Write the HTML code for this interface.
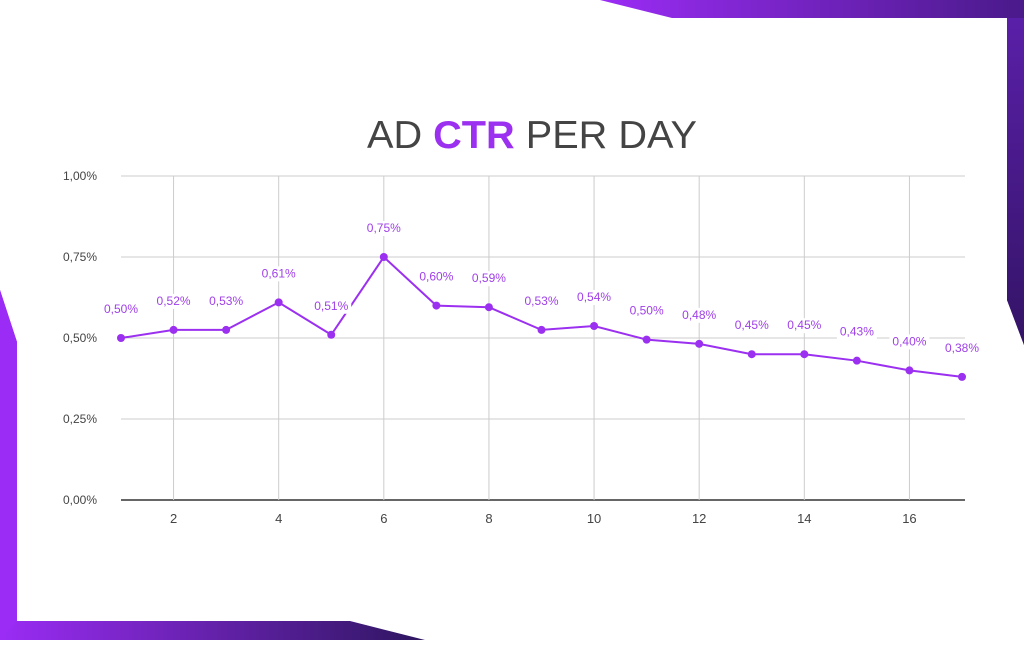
<!DOCTYPE html>
<html><head><meta charset="utf-8"><style>
html,body{margin:0;padding:0;background:#fff;}
body{width:1024px;height:640px;overflow:hidden;font-family:"Liberation Sans",sans-serif;}
</style></head><body>
<svg width="1024" height="640" viewBox="0 0 1024 640">
<defs>
<linearGradient id="gt" x1="0" x2="1" y1="0" y2="0"><stop offset="0" stop-color="#9b2cf5"/><stop offset="1" stop-color="#4a1a8a"/></linearGradient>
<linearGradient id="gr" x1="0" x2="0" y1="0" y2="1"><stop offset="0" stop-color="#5a1fa8"/><stop offset="1" stop-color="#331466"/></linearGradient>
<linearGradient id="gb" x1="0" x2="1" y1="0" y2="0"><stop offset="0" stop-color="#9b2cf5"/><stop offset="1" stop-color="#2e1660"/></linearGradient>
</defs>
<polygon points="600,0 1024,0 1024,345 1007,300 1007,18 672,18" fill="url(#gt)"/>
<polygon points="1007,18 1024,18 1024,345 1007,300" fill="url(#gr)"/>
<polygon points="0,290 17,342 17,621 350,621 425,640 0,640" fill="url(#gb)"/>
<polygon points="0,290 17,342 17,621 0,640" fill="#9b2cf5"/>
<text x="532" y="148" text-anchor="middle" font-size="39" fill="#444" textLength="330" lengthAdjust="spacingAndGlyphs">AD <tspan fill="#9b30f0" font-weight="bold">CTR</tspan> PER DAY</text>
<g id="grid"></g><g id="series"></g>
</svg>
<script>
const days=[1,2,3,4,5,6,7,8,9,10,11,12,13,14,15,16,17];
const ctr=[0.50,0.525,0.525,0.61,0.51,0.75,0.60,0.595,0.525,0.537,0.495,0.482,0.45,0.45,0.43,0.40,0.38];
const valueLabels=["0,50%","0,52%","0,53%","0,61%","0,51%","0,75%","0,60%","0,59%","0,53%","0,54%","0,50%","0,48%","0,45%","0,45%","0,43%","0,40%","0,38%"];
const yTicks=[0,0.25,0.5,0.75,1.0];
const yTickLabels=["0,00%","0,25%","0,50%","0,75%","1,00%"];
const xTicks=[2,4,6,8,10,12,14,16];
const NS="http://www.w3.org/2000/svg";
const X=d=>121+(d-1)*(962-121)/16;
const Y=v=>500-v*324;
function mk(tag,at,parent,txt){const e=document.createElementNS(NS,tag);for(const k in at)e.setAttribute(k,at[k]);if(txt!==undefined)e.textContent=txt;parent.appendChild(e);return e;}
const g=document.getElementById('grid'),s=document.getElementById('series');
yTicks.forEach((t,i)=>{
 const l=mk('line',{x1:121,x2:965,y1:Y(t),y2:Y(t),stroke:t===0?'#333':'#ccc','stroke-width':t===0?1.5:1},g);
 
 const tx=mk('text',{x:97,y:Y(t)+4,'text-anchor':'end','font-size':12,fill:'#444'},g,yTickLabels[i]);
 
});
xTicks.forEach(d=>{
 const l=mk('line',{x1:X(d),x2:X(d),y1:Y(1),y2:Y(0),stroke:'#ccc','stroke-width':1},g);
 
 const tx=mk('text',{x:X(d),y:523,'text-anchor':'middle','font-size':13,fill:'#444'},g,String(d));
 
});
const pl=mk('polyline',{points:days.map((d,i)=>X(d)+','+Y(ctr[i])).join(' '),fill:'none',stroke:'#9b30f0','stroke-width':2},s);

days.forEach((d,i)=>{
 const c=mk('circle',{cx:X(d),cy:Y(ctr[i]),r:4,fill:'#9b30f0'},s);
 
 const ly=Y(ctr[i])-25;
 const bg=mk('rect',{x:X(d)-20,y:ly-11,width:40,height:15,fill:'#fff'},s);
 
 const tx=mk('text',{x:X(d),y:ly,'text-anchor':'middle','font-size':12,fill:'#a040e8'},s,valueLabels[i]);
 
});
</script>
</body></html>
